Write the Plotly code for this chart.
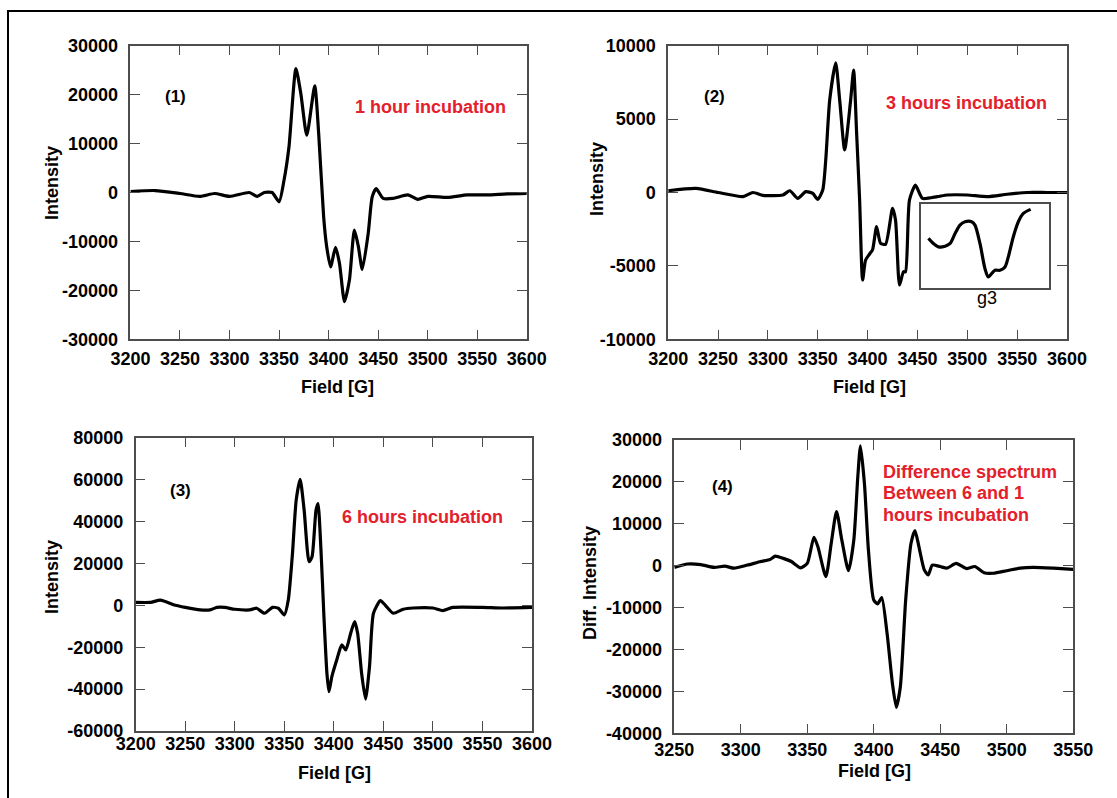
import plotly.graph_objects as go

W, H = 1117, 798

# ---------------- data ----------------
field_1 = [3200, 3225, 3250, 3270, 3285, 3300, 3320, 3328, 3335, 3343, 3350, 3355, 3360, 3367, 3372,
           3378, 3386, 3390, 3395, 3398, 3402, 3407, 3411, 3416, 3421, 3426, 3430, 3434, 3440, 3444,
           3448, 3455, 3465, 3480, 3490, 3500, 3520, 3540, 3560, 3580, 3600]
intensity_1 = [200, 400, -200, -800, -200, -800, 0, -800, 0, 0, -1900, 2500, 9300, 25300, 20200,
               11700, 21800, 12000, -5000, -11000, -15200, -11200, -14500, -22300, -17900, -7700, -11000,
               -15700, -8300, -900, 800, -1200, -1200, -500, -1400, -800, -1000, -500, -500, -300, -200]

field_2 = [3200, 3228, 3250, 3275, 3285, 3295, 3315, 3322, 3330, 3338, 3345, 3350, 3355, 3358, 3362,
           3368, 3372, 3377, 3383, 3386, 3389, 3392, 3395, 3398, 3402, 3405, 3409, 3413, 3418, 3425,
           3428, 3432, 3436, 3438, 3442, 3448, 3455, 3470, 3480, 3500, 3520, 3540, 3560, 3580, 3600]
intensity_2 = [120, 280, 0, -280, 0, -190, -170, 120, -400, 60, -60, -470, 170, 2200, 6300,
               8840, 6300, 2900, 6300, 8340, 4030, -510, -5960, -4600, -4190, -3900, -2330, -3460, -3530,
               -1080, -1870, -6300, -5400, -5400, -510, 500, -400, -280, -170, -170, -280, -120, 0, 0, 0]

# inset (g3 region, relative units)
inset_x = [6.0, 9.9, 13.8, 19.0, 22.9, 26.8, 30.6, 34.5, 39.7, 42.3, 46.2, 50.1, 52.7, 55.3, 57.9,
           61.8, 65.7, 68.3, 72.2, 76.1, 80.0, 85.7]
inset_y = [59.0, 53.0, 49.0, 49.8, 53.0, 64.9, 74.9, 78.9, 78.9, 74.9, 53.0, 23.1, 13.1, 17.1, 21.1,
           21.1, 25.1, 37.1, 61.0, 78.9, 88.8, 93.6]

field_3 = [3200, 3215, 3225, 3240, 3250, 3265, 3275, 3282, 3290, 3300, 3315, 3322, 3330, 3338, 3344,
           3350, 3354, 3358, 3362, 3366, 3370, 3375, 3378, 3382, 3384, 3387, 3390, 3393, 3395, 3398,
           3403, 3408, 3412, 3417, 3421, 3424, 3428, 3432, 3436, 3440, 3447, 3452, 3460, 3470, 3480,
           3500, 3510, 3520, 3550, 3570, 3600]
intensity_3 = [1400, 1400, 2500, 0, -1000, -2200, -2200, -1000, -1000, -1900, -2200, -1400, -3800, -1000,
               -1400, -4600, 2500, 23200, 50200, 60100, 45500, 20800, 23200, 45500, 48600, 26400, -5400,
               -32400, -41200, -34000, -26000, -18900, -21300, -13300, -7800, -13300, -32400, -44800,
               -29200, -3800, 2200, 0, -3800, -1900, -1300, -1300, -2500, -1000, -1000, -1300, -1000]

field_4 = [3250, 3260, 3270, 3280, 3288, 3295, 3305, 3315, 3322, 3326, 3332, 3338, 3345, 3350, 3355,
           3358, 3364, 3368, 3372, 3376, 3381, 3385, 3388, 3390, 3393, 3396, 3400, 3403, 3406, 3410,
           3414, 3417, 3420, 3424, 3428, 3431, 3434, 3438, 3441, 3444, 3450, 3455, 3462, 3470, 3476,
           3483, 3490, 3500, 3510, 3520, 3535, 3550]
intensity_4 = [-400, 400, 250, -400, -100, -600, 150, 1000, 1500, 2300, 1750, 1000, -500, 550, 6750,
               4500, -2600, 5300, 12900, 6100, -1200, 6100, 21200, 28600, 19600, 3700, -8200, -9100,
               -7600, -16100, -28000, -33800, -28900, -8200, 5300, 8400, 4500, -1000, -2200, 150, -200,
               -600, 550, -700, -200, -1700, -1800, -1200, -600, -400, -600, -900]

xticks_a = [3200, 3250, 3300, 3350, 3400, 3450, 3500, 3550, 3600]
xticks_b = [3250, 3300, 3350, 3400, 3450, 3500, 3550]
yticks_1 = [-30000, -20000, -10000, 0, 10000, 20000, 30000]
yticks_2 = [-10000, -5000, 0, 5000, 10000]
yticks_3 = [-60000, -40000, -20000, 0, 20000, 40000, 60000, 80000]
yticks_4 = [-40000, -30000, -20000, -10000, 0, 10000, 20000, 30000]

# ---------------- layout helpers ----------------
def px(x):
    return x / W

def py(y):
    return 1 - y / H

FONT = "Liberation Sans, Arial, sans-serif"
RED = "#e3202b"
FRAME = "#4d4d4d"

# plot-area boxes in pixels: left, right, top, bottom
boxes = {
    1: (130.4, 526.8, 45.7, 339.3),
    2: (668.2, 1067.0, 45.7, 339.3),
    3: (135.7, 532.0, 437.7, 731.0),
    4: (674.3, 1073.2, 440.0, 733.3),
}
xstandoff = {1: 2, 2: 2, 3: -4, 4: -1}

fig = go.Figure()

series = [
    (1, field_1, intensity_1, [3200, 3600], [-30000, 30000], xticks_a, yticks_1),
    (2, field_2, intensity_2, [3200, 3600], [-10000, 10000], xticks_a, yticks_2),
    (3, field_3, intensity_3, [3200, 3600], [-60000, 80000], xticks_a, yticks_3),
    (4, field_4, intensity_4, [3250, 3550], [-40000, 30000], xticks_b, yticks_4),
]

layout = dict(
    width=W, height=H,
    margin=dict(l=0, r=0, t=0, b=0),
    paper_bgcolor="white", plot_bgcolor="white",
    showlegend=False,
)

for i, fx, fy, xr, yr, xt, yt in series:
    sfx = "" if i == 1 else str(i)
    fig.add_trace(go.Scatter(
        x=fx, y=fy, mode="lines",
        line=dict(color="black", width=3.2, shape="spline", smoothing=0.6),
        xaxis="x" + sfx, yaxis="y" + sfx, hoverinfo="skip",
    ))
    l, r, t, b = boxes[i]
    layout["xaxis" + sfx] = dict(
        domain=[px(l), px(r)], range=xr, anchor="y" + sfx,
        showgrid=False, zeroline=False,
        showline=True, linecolor=FRAME, linewidth=1.5, mirror="ticks",
        ticks="inside", ticklen=10, tickcolor=FRAME, tickwidth=1,
        tickvals=xt, ticktext=[str(v) for v in xt],
        tickfont=dict(family=FONT, size=18, color="black", weight="bold"),
        ticklabelstandoff=xstandoff[i], automargin=False,
    )
    layout["yaxis" + sfx] = dict(
        domain=[py(b), py(t)], range=yr, anchor="x" + sfx,
        showgrid=False, zeroline=False,
        showline=True, linecolor=FRAME, linewidth=1.5, mirror="ticks",
        ticks="inside", ticklen=10, tickcolor=FRAME, tickwidth=1,
        tickvals=yt, ticktext=[str(v) for v in yt],
        tickfont=dict(family=FONT, size=18, color="black", weight="bold"),
        ticklabelstandoff=7, automargin=False,
    )

# inset in panel 2
fig.add_trace(go.Scatter(
    x=inset_x, y=inset_y, mode="lines",
    line=dict(color="black", width=3.2, shape="spline", smoothing=0.8),
    xaxis="x5", yaxis="y5", hoverinfo="skip",
))
layout["xaxis5"] = dict(domain=[px(920.7), px(1049)], range=[0, 100], anchor="y5",
                        showgrid=False, zeroline=False, showticklabels=False, ticks="",
                        showline=True, linecolor=FRAME, linewidth=1.5, mirror=True)
layout["yaxis5"] = dict(domain=[py(288), py(204)], range=[0, 100], anchor="x5",
                        showgrid=False, zeroline=False, showticklabels=False, ticks="",
                        showline=True, linecolor=FRAME, linewidth=1.5, mirror=True)

fig.update_layout(**layout)

# ---------------- annotations ----------------
def ann(text, x, y, size=18, color="black", bold=True, angle=0, xanchor="center"):
    fig.add_annotation(
        text=text, x=px(x), y=py(y), xref="paper", yref="paper",
        showarrow=False, textangle=angle, xanchor=xanchor, yanchor="middle",
        font=dict(family=FONT, size=size, color=color, weight="bold" if bold else "normal"),
    )

# panel labels
ann("(1)", 175, 97, size=17)
ann("(2)", 714, 97, size=17)
ann("(3)", 180, 490, size=17)
ann("(4)", 722, 486, size=17)

# red captions
ann("1 hour incubation", 430, 107, color=RED)
ann("3 hours incubation", 966, 103, color=RED)
ann("6 hours incubation", 422, 517, color=RED)
ann("Difference spectrum", 881, 472, color=RED, xanchor="left")
ann("Between 6 and 1", 881, 493, color=RED, xanchor="left")
ann("hours incubation", 881, 515, color=RED, xanchor="left")

# inset label
ann("g3", 987, 298, size=18, bold=False)

# axis titles
ann("Intensity", 52, 183, angle=-90)
ann("Intensity", 597, 179, angle=-90)
ann("Intensity", 52, 577, angle=-90)
ann("Diff. Intensity", 590, 583, angle=-90)
ann("Field [G]", 337, 387)
ann("Field [G]", 869, 387)
ann("Field [G]", 334, 773)
ann("Field [G]", 874, 771)

# outer border
fig.add_shape(type="rect", xref="paper", yref="paper",
              x0=px(8), y0=py(H + 5), x1=px(W + 5), y1=py(11),
              line=dict(color="black", width=2), fillcolor="rgba(0,0,0,0)", layer="above")

fig.write_html("out.html")
